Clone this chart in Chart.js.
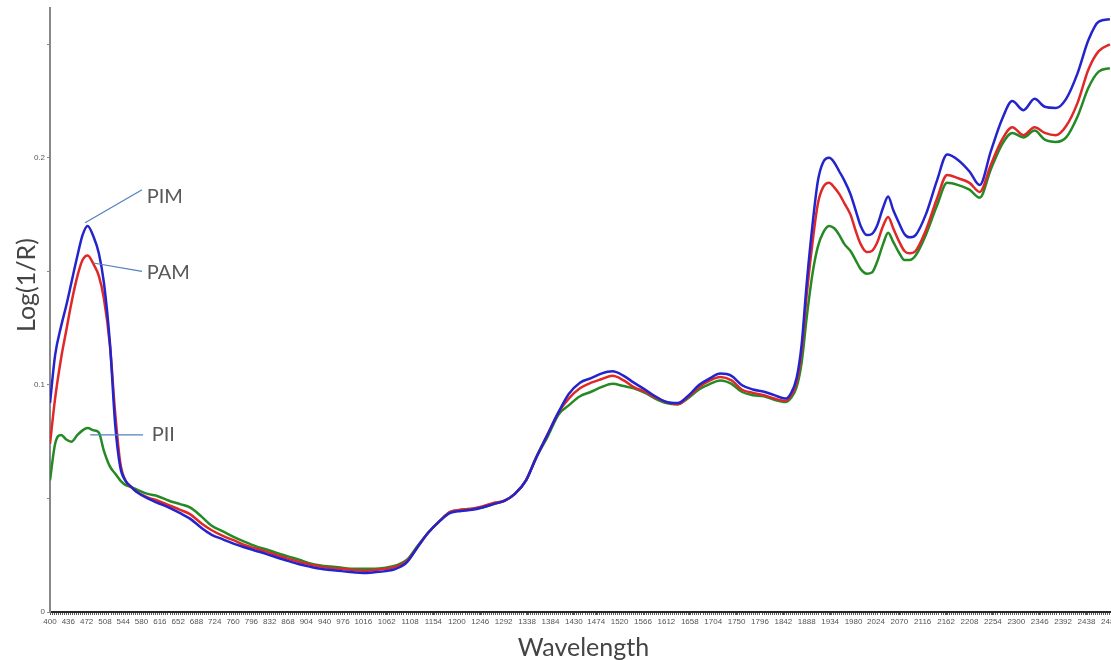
<!DOCTYPE html>
<html>
<head>
<meta charset="utf-8">
<script src="https://cdn.jsdelivr.net/npm/chart.js@4.4.1/dist/chart.umd.min.js"></script>
<style>
    html, body { margin: 0; padding: 0; background: #fff; overflow: hidden; width: 1111px; height: 660px; }
    #wrap { position: relative; width: 1130px; height: 660px; }
</style>
</head>
<body>
<div id="wrap"><canvas id="spectra" width="1130" height="660"></canvas></div>
<script>
// Labelled wavelengths on the x axis (nm)
const tickWavelengths = [400, 436, 472, 508, 544, 580, 616, 652, 688, 724, 760, 796, 832, 868, 904, 940, 976,
    1016, 1062, 1108, 1154, 1200, 1246, 1292, 1338, 1384, 1430, 1474, 1520, 1566, 1612, 1658, 1704, 1750,
    1796, 1842, 1888, 1934, 1980, 2024, 2070, 2116, 2162, 2208, 2254, 2300, 2346, 2392, 2438, 2484];

// Wavelengths (nm) where the spectra were read
const wavelengths = [
    400, 410, 422, 432, 442, 454, 464, 474, 486, 496, 506, 518, 528, 538, 548, 560, 570,
    592, 612, 634, 656, 676, 698, 718, 740, 762, 782,
    804, 826, 846, 868, 890, 910, 932, 952, 974, 996,
    1016, 1038, 1060, 1080, 1102, 1124, 1144, 1166, 1186, 1208,
    1230, 1250, 1272, 1294, 1314, 1336, 1356, 1378, 1400, 1420,
    1442, 1464, 1484, 1506, 1528, 1548, 1570, 1590, 1612, 1634,
    1654, 1676, 1698, 1718, 1740, 1760, 1782, 1804, 1824,
    1846, 1856, 1868, 1878, 1888, 1900, 1910, 1920, 1932, 1942, 1952, 1962, 1974,
    1984, 1994, 2006, 2016, 2026, 2038, 2048, 2058, 2070, 2080, 2090, 2102,
    2122, 2144, 2164, 2186, 2208, 2228, 2250, 2272, 2292, 2314, 2336, 2356, 2378, 2398, 2420, 2442, 2462, 2484
];

// Log(1/R) per wavelength
const pimValues = [
    0.092, 0.113, 0.126, 0.135, 0.145, 0.157, 0.166, 0.170, 0.165, 0.158, 0.145, 0.118, 0.083, 0.064, 0.058, 0.055, 0.053,
    0.050, 0.048, 0.046, 0.0435, 0.041, 0.037, 0.034, 0.032, 0.030, 0.0285,
    0.027, 0.0255, 0.024, 0.0225, 0.021, 0.020, 0.019, 0.0185, 0.018, 0.0175,
    0.0172, 0.0175, 0.018, 0.019, 0.022, 0.029, 0.035, 0.040, 0.0435, 0.0445,
    0.045, 0.046, 0.0475, 0.049, 0.052, 0.058, 0.068, 0.078, 0.088, 0.096,
    0.101, 0.103, 0.105, 0.106, 0.104, 0.101, 0.098, 0.095, 0.0925, 0.092,
    0.095, 0.100, 0.103, 0.105, 0.104, 0.100, 0.098, 0.097, 0.0955,
    0.094, 0.096, 0.103, 0.118, 0.145, 0.172, 0.190, 0.198, 0.200, 0.198, 0.194, 0.190, 0.184,
    0.177, 0.170, 0.166, 0.1665, 0.170, 0.178, 0.183, 0.177, 0.171, 0.1665, 0.165, 0.166,
    0.175, 0.190, 0.2015, 0.199, 0.194, 0.188, 0.203, 0.217, 0.225, 0.221, 0.226, 0.2225, 0.222, 0.226, 0.237, 0.252, 0.260, 0.261
];
const pamValues = [
    0.074, 0.094, 0.112, 0.124, 0.136, 0.148, 0.155, 0.157, 0.153, 0.148, 0.138, 0.117, 0.088, 0.066, 0.058, 0.055, 0.053,
    0.0505, 0.049, 0.047, 0.045, 0.043, 0.039, 0.036, 0.0335, 0.0315, 0.0295,
    0.028, 0.0265, 0.025, 0.0235, 0.022, 0.021, 0.020, 0.0193, 0.019, 0.0185,
    0.0182, 0.0185, 0.019, 0.020, 0.0225, 0.029, 0.035, 0.040, 0.044, 0.045,
    0.0455, 0.0465, 0.048, 0.049, 0.052, 0.058, 0.068, 0.078, 0.088, 0.094,
    0.0985, 0.101, 0.1025, 0.104, 0.102, 0.099, 0.097, 0.0945, 0.0925, 0.0915,
    0.0945, 0.099, 0.102, 0.1035, 0.102, 0.098, 0.0965, 0.0955, 0.094,
    0.093, 0.095, 0.101, 0.115, 0.140, 0.164, 0.180, 0.187, 0.189, 0.187, 0.184, 0.180, 0.175,
    0.168, 0.162, 0.1585, 0.159, 0.1625, 0.170, 0.174, 0.169, 0.163, 0.159, 0.158, 0.159,
    0.168, 0.182, 0.1925, 0.191, 0.189, 0.185, 0.197, 0.208, 0.2135, 0.210, 0.2135, 0.211, 0.210, 0.214, 0.224, 0.239, 0.247, 0.250
];
const piiValues = [
    0.058, 0.074, 0.078, 0.076, 0.075, 0.078, 0.080, 0.081, 0.080, 0.079, 0.071, 0.064, 0.061, 0.058, 0.056, 0.055, 0.054,
    0.052, 0.051, 0.049, 0.0475, 0.046, 0.042, 0.038, 0.0355, 0.033, 0.031,
    0.029, 0.0275, 0.026, 0.0245, 0.023, 0.0215, 0.0205, 0.020, 0.0195, 0.019,
    0.019, 0.019, 0.0195, 0.0205, 0.023, 0.0295, 0.035, 0.040, 0.044, 0.045,
    0.0455, 0.046, 0.0475, 0.049, 0.052, 0.058, 0.068, 0.077, 0.087, 0.091,
    0.095, 0.097, 0.099, 0.1005, 0.0995, 0.0985, 0.0965, 0.094, 0.092, 0.0915,
    0.094, 0.098, 0.1005, 0.102, 0.1005, 0.097, 0.0955, 0.095, 0.0935,
    0.0925, 0.094, 0.099, 0.110, 0.130, 0.150, 0.161, 0.167, 0.170, 0.169, 0.166, 0.162, 0.159,
    0.155, 0.151, 0.149, 0.1495, 0.154, 0.162, 0.167, 0.163, 0.158, 0.155, 0.155, 0.157,
    0.166, 0.179, 0.189, 0.188, 0.186, 0.1825, 0.195, 0.206, 0.211, 0.209, 0.212, 0.208, 0.207, 0.209, 0.218, 0.231, 0.238, 0.2395
];

// Callout labels: leader from the curve to the label (nm, Log(1/R))
const callouts = [
    { text: 'PIM', from: [469, 0.1714], to: [581, 0.186], label: [590, 0.183] },
    { text: 'PAM', from: [485, 0.1537], to: [581, 0.150], label: [590, 0.1495] },
    { text: 'PII', from: [479, 0.078], to: [583, 0.078], label: [600, 0.078] }
];

const toPoints = vals => wavelengths.map((x, i) => ({ x: x, y: vals[i] }));
const labelled = new Set(tickWavelengths);

const calloutPlugin = {
    id: 'callouts',
    afterDatasetsDraw(chart) {
        const { ctx, scales: { x, y } } = chart;
        ctx.save();
        callouts.forEach(c => {
            ctx.strokeStyle = '#4f81bd';
            ctx.lineWidth = 1.2;
            ctx.beginPath();
            ctx.moveTo(x.getPixelForValue(c.from[0]), y.getPixelForValue(c.from[1]));
            ctx.lineTo(x.getPixelForValue(c.to[0]), y.getPixelForValue(c.to[1]));
            ctx.stroke();
            ctx.fillStyle = '#595959';
            ctx.font = '20px Lato, "Open Sans", sans-serif';
            ctx.textAlign = 'left';
            ctx.textBaseline = 'middle';
            ctx.fillText(c.text, x.getPixelForValue(c.label[0]), y.getPixelForValue(c.label[1]));
        });
        ctx.restore();
    }
};

const tickFont = { family: '"Liberation Sans", Arial, sans-serif', size: 8 };
const titleFont = { family: 'Lato, "Open Sans", sans-serif', size: 25 };

new Chart(document.getElementById('spectra'), {
    type: 'line',
    data: {
        datasets: [
            { label: 'PIM', data: toPoints(pimValues), borderColor: '#2424cc' },
            { label: 'PAM', data: toPoints(pamValues), borderColor: '#e02828' },
            { label: 'PII', data: toPoints(piiValues), borderColor: '#258a25' }
        ]
    },
    options: {
        responsive: false,
        animation: false,
        layout: { padding: { top: 8, right: 13, left: 0, bottom: 0 } },
        elements: {
            point: { radius: 0 },
            line: { borderWidth: 2.5, cubicInterpolationMode: 'monotone' }
        },
        plugins: { legend: { display: false }, tooltip: { enabled: false } },
        scales: {
            x: {
                type: 'linear',
                min: 400,
                max: 2498,
                afterFit: s => { s.height = 48; },
                afterBuildTicks: s => {
                    // labelled ticks plus the dense minor tick marks along the axis
                    const vals = new Set(tickWavelengths);
                    for (let w = 400; w <= 2498; w += 4) vals.add(w);
                    s.ticks = [...vals].sort((a, b) => a - b).map(v => ({ value: v }));
                },
                border: { color: '#2a2a2a', width: 2 },
                grid: { drawOnChartArea: false, tickLength: 3, color: '#555', lineWidth: 1 },
                ticks: {
                    autoSkip: false,
                    maxRotation: 0,
                    padding: 2,
                    color: '#555',
                    font: tickFont,
                    callback: v => labelled.has(v) ? String(v) : ''
                },
                title: {
                    display: true,
                    text: 'Wavelength',
                    color: '#444',
                    font: titleFont,
                    padding: { top: 0, bottom: -3 }
                }
            },
            y: {
                min: 0,
                max: 0.266,
                afterFit: s => { s.width = 50; },
                border: { color: '#888', width: 2 },
                grid: { drawOnChartArea: false, tickLength: 3, color: '#888' },
                ticks: {
                    stepSize: 0.05,
                    includeBounds: false,
                    padding: 2,
                    color: '#555',
                    font: tickFont,
                    callback: v => {
                        if (Math.abs(v * 10 - Math.round(v * 10)) > 1e-6) return '';
                        return v === 0 ? '0' : v.toFixed(1);
                    }
                },
                title: {
                    display: true,
                    text: '\u2002\u2002\u2002\u2002Log(1/R)',
                    color: '#444',
                    font: titleFont,
                    padding: { top: 12, bottom: 0 }
                }
            }
        }
    },
    plugins: [calloutPlugin]
});
</script>
</body>
</html>
